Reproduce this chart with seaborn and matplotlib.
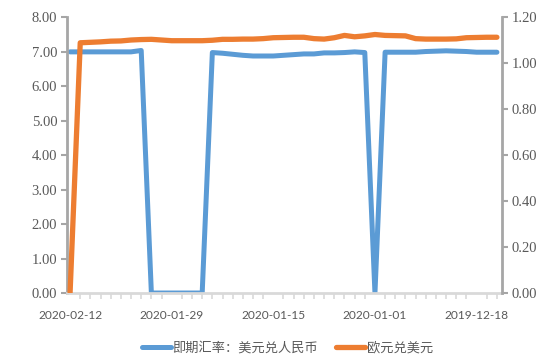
import matplotlib
matplotlib.use("Agg")
import matplotlib.pyplot as plt
import matplotlib.ticker as mticker
import numpy as np
import pandas as pd
import seaborn as sns

# Trading days, newest first (2020-02-12 back to 2019-12-16)
dates = [d.strftime("%Y-%m-%d") for d in pd.bdate_range(end="2020-02-12", periods=43)[::-1]]
tick_labels = ["2020-02-12", "2020-01-29", "2020-01-15", "2020-01-01", "2019-12-18"]

usd_cny = [6.99, 6.99, 6.99, 6.99, 6.99, 6.99, 6.99, 7.03,
           0.00, 0.00, 0.00, 0.00, 0.00, 0.00,
           6.97, 6.95, 6.92, 6.89, 6.87, 6.87, 6.87, 6.89, 6.91, 6.93, 6.93,
           6.96, 6.96, 6.97, 6.99, 6.97,
           0.00,
           6.98, 6.98, 6.98, 6.98, 7.00, 7.01, 7.02, 7.01, 7.00, 6.98, 6.98, 6.98]

eur_usd = [0.000, 1.088, 1.090, 1.092, 1.095, 1.096, 1.100, 1.102, 1.103, 1.100,
           1.097, 1.097, 1.097, 1.097, 1.099, 1.103, 1.103, 1.104, 1.104, 1.106,
           1.110, 1.111, 1.112, 1.112, 1.106, 1.104, 1.110, 1.120, 1.114, 1.118,
           1.124, 1.120, 1.119, 1.118, 1.106, 1.104, 1.104, 1.104, 1.105, 1.110,
           1.111, 1.112, 1.112]

name_cny = "即期汇率：美元兑人民币"
name_eur = "欧元兑美元"

df = pd.DataFrame({"date": dates, "pos": np.arange(len(dates)),
                   "cny": usd_cny, "eur": eur_usd})

sns.set_theme(style="white")
plt.rcParams["font.family"] = ["Liberation Serif", "Noto Sans CJK SC"]

fig = plt.figure(figsize=(5.37, 3.59), dpi=100)
ax = fig.add_axes([0.1248, 0.1838, 0.81, 0.7688])
ax2 = ax.twinx()

blue = "#5B9BD5"
orange = "#ED7D31"
sns.lineplot(data=df, x="pos", y="cny", ax=ax, color=blue, lw=3.6, label=name_cny, legend=False)
sns.lineplot(data=df, x="pos", y="eur", ax=ax2, color=orange, lw=3.8, label=name_eur, legend=False)

ax.set_xlim(-0.3, len(dates) - 0.5)
ax.set_ylim(0, 8)
ax2.set_ylim(0, 1.2)
ax.yaxis.set_major_locator(mticker.MultipleLocator(1))
ax2.yaxis.set_major_locator(mticker.MultipleLocator(0.2))
ax.yaxis.set_major_formatter(mticker.FormatStrFormatter("%.2f"))
ax2.yaxis.set_major_formatter(mticker.FormatStrFormatter("%.2f"))

label_pos = [dates.index(t) for t in tick_labels]
ax.set_xticks(label_pos)
ax.set_xticklabels(tick_labels)
ax.set_xticks(np.arange(len(dates)), minor=True)
ax.set_xlabel("")
ax.set_ylabel("")
ax2.set_ylabel("")

txt = "#595959"
for a in (ax, ax2):
    for s in a.spines.values():
        s.set_visible(False)
ax.spines["left"].set_visible(True)
ax.spines["left"].set_color("#A6A6A6")
ax.spines["left"].set_linewidth(2)
ax.spines["bottom"].set_visible(True)
ax.spines["bottom"].set_color("#D9D9D9")
ax.spines["bottom"].set_linewidth(2)
ax2.spines["right"].set_visible(True)
ax2.spines["right"].set_color("#A6A6A6")
ax2.spines["right"].set_linewidth(2)

ax.tick_params(axis="y", which="major", left=True, length=4, width=1.5, color="#A6A6A6",
               labelsize=10.5, labelcolor=txt, pad=3)
ax2.tick_params(axis="y", which="major", right=True, length=4, width=1.5, color="#A6A6A6",
                labelsize=10.5, labelcolor=txt, pad=3)
ax.tick_params(axis="x", which="major", bottom=False, labelsize=8.6, labelcolor=txt, pad=6)
ax.tick_params(axis="x", which="minor", bottom=True, length=4, width=1.2, color="#D9D9D9")
for lab in ax.get_xticklabels():
    lab.set_fontfamily(["Lato", "DejaVu Sans"])
ax.grid(False)
ax2.grid(False)

h1, l1 = ax.get_legend_handles_labels()
h2, l2 = ax2.get_legend_handles_labels()
leg = fig.legend(h1 + h2, l1 + l2, loc="center", bbox_to_anchor=(0.535, 0.03), ncol=2,
                 frameon=False, handlelength=2.2, handletextpad=0.1, columnspacing=1.4,
                 prop={"family": ["Noto Sans CJK SC"], "size": 9.5})
for t in leg.get_texts():
    t.set_color(txt)

fig.savefig("out.png", dpi=100)
